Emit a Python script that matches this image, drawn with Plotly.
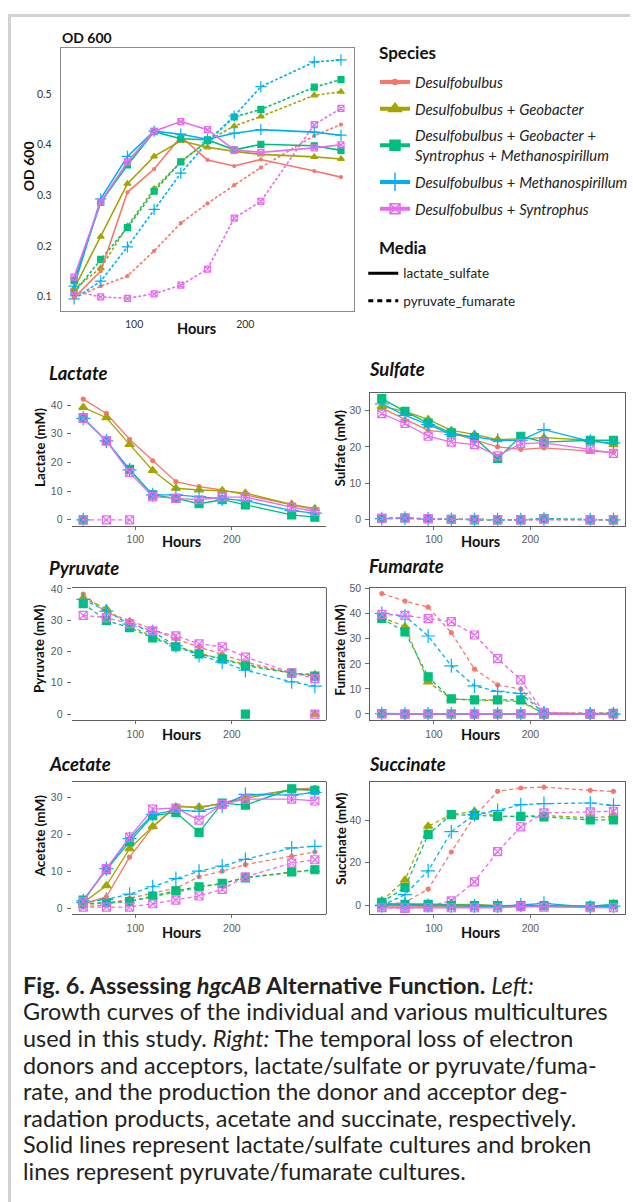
import plotly.graph_objects as go

W, H = 633, 1202

hours = [46, 70, 94, 118, 142, 166, 190, 214, 262, 286]

species = [
    "Desulfobulbus",
    "Desulfobulbus + Geobacter",
    "Desulfobulbus + Geobacter + Syntrophus + Methanospirillum",
    "Desulfobulbus + Methanospirillum",
    "Desulfobulbus + Syntrophus",
]
species_labels = [
    "<i>Desulfobulbus</i>",
    "<i>Desulfobulbus</i> + <i>Geobacter</i>",
    "<i>Desulfobulbus</i> + <i>Geobacter</i> +<br><i>Syntrophus</i> + <i>Methanospirillum</i>",
    "<i>Desulfobulbus</i> + <i>Methanospirillum</i>",
    "<i>Desulfobulbus</i> + <i>Syntrophus</i>",
]
media = ["lactate_sulfate", "pyruvate_fumarate"]

# ---- OD 600 ----
od_lactate_sulfate = [
    [0.097, 0.150, 0.306, 0.352, 0.416, 0.370, 0.358, 0.371, 0.348, 0.336],
    [0.115, 0.218, 0.323, 0.377, 0.408, 0.395, 0.387, 0.381, 0.376, 0.372],
    [0.131, 0.286, 0.360, 0.426, 0.412, 0.410, 0.390, 0.401, 0.398, 0.389],
    [0.120, 0.293, 0.377, 0.427, 0.421, 0.411, 0.423, 0.430, 0.425, 0.419],
    [0.138, 0.287, 0.366, 0.427, 0.446, 0.430, 0.390, 0.385, 0.394, 0.400],
]
od_pyruvate_fumarate = [
    [0.097, 0.120, 0.140, 0.190, 0.245, 0.284, 0.320, 0.355, 0.418, 0.440],
    [0.115, 0.156, 0.239, 0.313, 0.366, 0.408, 0.437, 0.456, 0.498, 0.505],
    [0.107, 0.173, 0.236, 0.308, 0.366, 0.408, 0.455, 0.470, 0.514, 0.529],
    [0.095, 0.130, 0.198, 0.272, 0.344, 0.405, 0.457, 0.515, 0.564, 0.568],
    [0.110, 0.099, 0.096, 0.105, 0.122, 0.154, 0.255, 0.288, 0.440, 0.472],
]

# ---- Lactate (mM) ----
lactate_lactate_sulfate = [
    [42.1, 37.1, 28.1, 20.6, 13.3, 11.6, 10.4, 8.7, 5.2, 3.5],
    [39.2, 35.6, 26.3, 17.2, 11.0, 10.4, 10.1, 9.3, 5.4, 3.9],
    [35.6, 27.5, 17.6, 8.7, 7.5, 5.6, 7.0, 5.2, 1.7, 0.9],
    [35.4, 27.5, 17.4, 8.7, 8.7, 8.1, 7.3, 6.7, 3.2, 2.3],
    [35.4, 27.5, 16.5, 8.1, 7.5, 7.0, 7.9, 7.9, 4.4, 2.9],
]
lactate_pyruvate_fumarate = [
    [0.0, None, None, None, None, None, None, None, None, None],
    [0.0, None, None, None, None, None, None, None, None, None],
    [0.0, None, None, None, None, None, None, None, None, None],
    [0.0, None, None, None, None, None, None, None, None, None],
    [0.0, 0.0, 0.0, None, None, None, None, None, None, None],
]

# ---- Sulfate (mM) ----
sulfate_lactate_sulfate = [
    [30.6, 27.5, 24.5, 23.8, 21.8, 20.0, 19.3, 19.7, 18.8, 18.5],
    [31.1, 29.7, 27.5, 24.5, 23.4, 22.0, 22.2, 22.5, 21.8, 20.6],
    [33.2, 29.7, 26.5, 23.8, 22.5, 16.8, 22.9, 21.3, 21.8, 21.8],
    [31.8, 28.6, 26.1, 23.4, 22.7, 21.8, 21.8, 24.7, 21.5, 21.1],
    [29.1, 26.4, 22.9, 21.3, 20.6, 17.5, 20.9, 21.1, 19.3, 18.2],
]
sulfate_pyruvate_fumarate = [
    [0.4, 0.5, 0.2, 0.1, 0.0, 0.0, 0.0, 0.2, 0.0, 0.0],
    [0.3, 0.4, 0.2, 0.1, 0.1, 0.0, 0.0, 0.1, 0.0, 0.0],
    [0.4, 0.5, 0.3, 0.1, 0.0, 0.0, 0.0, 0.3, 0.0, 0.0],
    [0.3, 0.4, 0.2, 0.1, 0.0, 0.0, 0.0, 0.2, 0.0, 0.0],
    [0.4, 0.5, 0.3, 0.1, 0.1, 0.0, 0.0, 0.2, 0.0, 0.0],
]

# ---- Pyruvate (mM) ----
pyruvate_lactate_sulfate = [
    [None, None, None, None, None, None, None, None, None, 0.0],
    [None, None, None, None, None, None, None, None, None, 0.0],
    [None, None, None, None, None, None, None, 0.0, None, None],
    [None, None, None, None, None, None, None, None, None, None],
    [None, None, None, None, None, None, None, None, None, 0.0],
]
pyruvate_pyruvate_fumarate = [
    [38.3, 32.4, 29.9, 27.1, 23.9, 21.5, 19.2, 16.6, 13.1, 12.4],
    [37.1, 33.6, 28.2, 24.7, 21.8, 19.4, 17.6, 15.9, 13.1, 12.6],
    [35.3, 29.9, 27.6, 24.3, 21.5, 19.2, 17.6, 15.5, 13.1, 12.1],
    [36.6, 32.9, 28.7, 26.3, 21.8, 18.7, 16.6, 14.0, 10.3, 8.9],
    [31.5, 30.8, 28.9, 26.6, 25.0, 22.4, 21.5, 18.2, 13.2, 11.3],
]

# ---- Fumarate (mM) ----
fumarate_lactate_sulfate = [
    [0.0, 0.0, 0.0, 0.0, 0.0, 0.0, 0.0, 0.0, 0.0, 0.0],
    [0.1, 0.0, 0.0, 0.0, 0.0, 0.0, 0.0, 0.0, 0.0, 0.1],
    [0.2, 0.0, 0.0, 0.0, 0.0, 0.0, 0.0, 0.0, 0.0, 0.2],
    [0.1, 0.0, 0.0, 0.0, 0.0, 0.0, 0.0, 0.0, 0.0, 0.0],
    [0.0, 0.0, 0.1, 0.1, 0.0, 0.0, 0.1, 0.0, 0.0, 0.0],
]
fumarate_pyruvate_fumarate = [
    [48.0, 45.0, 42.6, 32.4, 17.9, 11.6, 9.9, 0.4, 0.4, 0.4],
    [38.6, 34.8, 12.8, 6.0, 5.6, 5.3, 5.0, 0.0, 0.0, 0.0],
    [38.1, 32.7, 14.8, 6.0, 5.6, 5.6, 5.6, 0.0, 0.0, 0.3],
    [40.1, 39.0, 31.1, 19.2, 11.2, 9.0, 8.2, 0.4, 0.0, 0.0],
    [39.7, 39.3, 38.0, 36.8, 31.5, 22.1, 13.6, 0.7, 0.0, 0.0],
]

# ---- Acetate (mM) ----
acetate_lactate_sulfate = [
    [1.1, 3.1, 13.8, 21.9, 27.7, 27.1, 28.4, 30.2, 32.0, 32.6],
    [1.5, 6.1, 16.1, 22.1, 27.4, 27.4, 28.3, 29.7, 32.1, 32.0],
    [2.2, 10.4, 18.0, 25.0, 25.9, 20.5, 28.4, 27.9, 32.3, 31.9],
    [2.0, 10.7, 18.8, 25.4, 26.5, 26.2, 27.7, 30.8, 30.6, 31.3],
    [1.8, 10.7, 19.2, 26.8, 27.1, 23.8, 28.1, 29.5, 29.5, 29.0],
]
acetate_pyruvate_fumarate = [
    [0.4, 0.9, 2.7, 4.0, 5.4, 8.5, 10.0, 11.8, 14.0, 15.2],
    [0.9, 1.5, 1.8, 3.1, 4.5, 5.6, 6.7, 8.3, 9.8, 10.4],
    [1.2, 1.5, 1.8, 3.3, 4.7, 5.8, 6.7, 8.2, 9.8, 10.4],
    [1.5, 2.4, 3.8, 5.8, 8.0, 10.0, 11.4, 13.2, 16.3, 16.7],
    [0.3, 0.3, 0.3, 1.2, 2.2, 3.3, 5.1, 8.5, 12.2, 13.1],
]

# ---- Succinate (mM) ----
succinate_lactate_sulfate = [
    [-0.5, -0.5, -0.5, -0.8, -0.8, -0.8, -0.8, -0.8, -0.8, -0.8],
    [0.4, 0.5, 0.5, 0.2, 0.3, -0.3, -0.5, -0.3, -0.5, 0.0],
    [0.5, 0.3, 0.3, -0.2, -0.3, -0.3, -0.3, -0.3, -0.5, 0.3],
    [0.0, 0.0, -0.2, -0.3, -0.5, -0.5, 0.0, 0.8, -1.0, -0.5],
    [-1.3, -1.3, -1.3, -1.3, -1.3, -1.3, -0.8, -1.0, -1.3, -1.3],
]
succinate_pyruvate_fumarate = [
    [0.0, 1.3, 7.5, 25.1, 42.0, 53.8, 55.4, 55.8, 54.3, 53.8],
    [2.0, 11.8, 37.3, 42.8, 44.4, 42.0, 42.0, 42.4, 41.3, 42.0],
    [1.3, 8.3, 33.4, 42.8, 42.5, 42.0, 42.0, 41.7, 40.3, 40.3],
    [-0.3, 4.9, 16.2, 34.7, 42.8, 44.7, 47.5, 48.0, 48.3, 47.2],
    [-1.1, -1.6, -0.6, 2.0, 11.0, 25.3, 37.0, 43.6, 44.1, 44.4],
]

# ------------------------------------------------------------------
colors = ["#F8766D", "#A3A500", "#00BF7D", "#00B0F6", "#E76BF3"]
symbols = ["circle", "triangle-up", "square", "cross-thin-open", "square-x-open"]
msize_small = [4, 8, 8, 10, 8]
msize_od = [3, 6, 6, 8, 6]

FONT = "Lato, 'Open Sans', sans-serif"
TICKFONT = "'Liberation Sans', Arial, sans-serif"


def px_x(p0, p1):
    return [p0 / W, p1 / W]


def px_y(top, bottom):
    return [1 - bottom / H, 1 - top / H]


fig = go.Figure()

panels = [
    # name, axis suffix, data LS, data PF, x px, y px, y range, y ticks
    ("OD", "", od_lactate_sulfate, od_pyruvate_fumarate, (61, 356), (43, 307), [0.0715, 0.592], [0.1, 0.2, 0.3, 0.4, 0.5]),
    ("Lactate", "2", lactate_lactate_sulfate, lactate_pyruvate_fumarate, (72, 328), (390, 523), [-2.1, 44.1], [0, 10, 20, 30, 40]),
    ("Sulfate", "3", sulfate_lactate_sulfate, sulfate_pyruvate_fumarate, (372, 628), (390, 523), [-1.65, 34.65], [0, 10, 20, 30]),
    ("Pyruvate", "4", pyruvate_lactate_sulfate, pyruvate_pyruvate_fumarate, (72, 328), (585, 718), [-1.9, 40.4], [0, 10, 20, 30, 40]),
    ("Fumarate", "5", fumarate_lactate_sulfate, fumarate_pyruvate_fumarate, (372, 628), (585, 718), [-2.4, 50.4], [0, 10, 20, 30, 40, 50]),
    ("Acetate", "6", acetate_lactate_sulfate, acetate_pyruvate_fumarate, (72, 328), (780, 913), [-1.63, 34.2], [0, 10, 20, 30]),
    ("Succinate", "7", succinate_lactate_sulfate, succinate_pyruvate_fumarate, (372, 628), (780, 913), [-4.35, 58.35], [0, 20, 40]),
]

layout_axes = {}
for name, sfx, d_ls, d_pf, xp, yp, yr, yt in panels:
    is_od = name == "OD"
    xa = "x" + sfx
    ya = "y" + sfx
    lw = 1.6 if is_od else 1.3
    dash = "3px,2px" if is_od else "4px,3px"
    sizes = msize_od if is_od else msize_small
    for data, dsh in ((d_pf, dash), (d_ls, "solid")):
        for i in range(len(species)):
            fig.add_trace(go.Scatter(
                x=hours, y=data[i], xaxis=xa, yaxis=ya,
                mode="lines+markers", showlegend=False, hoverinfo="skip",
                line=dict(color=colors[i], width=lw, dash=dsh),
                marker=dict(symbol=symbols[i], size=sizes[i], color=colors[i],
                            line=dict(color=colors[i], width=1.2)),
                connectgaps=False,
            ))
    border = "#8a8a8a" if is_od else "#5e5e5e"
    full_box = name in ("OD", "Sulfate", "Fumarate", "Succinate")
    xkey = "xaxis" + sfx
    ykey = "yaxis" + sfx
    tf = dict(family=FONT if is_od else TICKFONT,
              size=10.5,
              color="#333333" if is_od else "#5a5a5a")
    layout_axes[xkey] = dict(
        domain=px_x(*xp), anchor=ya, range=[34, 298],
        tickvals=[100, 200], ticktext=["100", "200"],
        showgrid=False, zeroline=False,
        showline=True, linecolor=border, linewidth=1,
        mirror=full_box or name in ("Pyruvate", "Acetate"),
        ticks="" if is_od else "outside", ticklen=3, tickcolor="#6e6e6e",
        tickfont=tf, ticklabelstandoff=4 if is_od else 1,
    )
    layout_axes[ykey] = dict(
        domain=px_y(*yp), anchor=xa, range=yr,
        tickvals=yt, showgrid=False, zeroline=False,
        showline=full_box, linecolor=border, linewidth=1, mirror=full_box,
        ticks="" if is_od else "outside", ticklen=4, tickcolor="#6e6e6e",
        tickfont=tf, ticklabelstandoff=6 if is_od else 2,
    )
    if name in ("Pyruvate", "Acetate"):
        fig.add_shape(type="line", xref=xa + " domain", yref=ya + " domain",
                      x0=1, x1=1, y0=0, y1=1, line=dict(color=border, width=1))

# ---- legend traces ----
for i in range(len(species)):
    fig.add_trace(go.Scatter(
        x=[None], y=[None], name=species_labels[i], legend="legend",
        legendgroup="sp%d" % i, mode="lines+markers",
        line=dict(color=colors[i], width=4),
        marker=dict(symbol=symbols[i], size=[5, 11, 10, 13, 10][i], color=colors[i],
                    line=dict(color=colors[i], width=1.5)),
    ))
for j, m in enumerate(media):
    fig.add_trace(go.Scatter(
        x=[None], y=[None], name=m, legend="legend2",
        legendgroup="md%d" % j, mode="lines",
        line=dict(color="black", width=3, dash="solid" if j == 0 else "5px,4px"),
    ))

ann = []


def text(x, y, s, size, bold=False, italic=False, family=FONT, color="#111111",
         xanchor="left", angle=0):
    if italic:
        s = "<i>" + s + "</i>"
    if bold:
        s = "<b>" + s + "</b>"
    ann.append(dict(x=x / W, y=1 - y / H, xref="paper", yref="paper", text=s,
                    showarrow=False, xanchor=xanchor, yanchor="middle",
                    textangle=angle, font=dict(size=size, family=family, color=color)))


# panel titles
text(60, 33, "OD 600", 14, bold=True)
for t, x, y in [("Lactate", 47, 370), ("Sulfate", 369, 366), ("Pyruvate", 47, 565),
                ("Fumarate", 369, 563), ("Acetate", 47, 762), ("Succinate", 369, 762)]:
    text(x, y, t, 18.5, bold=True, italic=True)

# axis titles
text(28, 162, "OD 600", 14, bold=True, xanchor="center", angle=-90)
for t, x, y in [("Lactate (mM)", 40, 444), ("Sulfate (mM)", 342, 445),
                ("Pyruvate (mM)", 40, 646), ("Fumarate (mM)", 342, 647),
                ("Acetate (mM)", 40, 834), ("Succinate (mM)", 342, 837)]:
    text(x, y, t, 13.5, bold=True, xanchor="center", angle=-90)
text(197, 325, "Hours", 14.5, bold=True, xanchor="center")
for x, y in [(182, 539), (483, 539), (182, 733), (483, 733), (182, 931), (483, 931)]:
    text(x, y, "Hours", 14.5, bold=True, xanchor="center")

# legend headings
text(379, 48, "Species", 17, bold=True)
text(379, 244, "Media", 17, bold=True)

# caption
caption = [
    "<b>Fig. 6. Assessing <i>hgcAB</i> Alternative Function.</b> <i>Left:</i>",
    "Growth curves of the individual and various multicultures",
    "used in this study. <i>Right:</i> The temporal loss of electron",
    "donors and acceptors, lactate/sulfate or pyruvate/fuma-",
    "rate, and the production the donor and acceptor deg-",
    "radation products, acetate and succinate, respectively.",
    "Solid lines represent lactate/sulfate cultures and broken",
    "lines represent pyruvate/fumarate cultures.",
]
for k, line in enumerate(caption):
    text(21, 984 + k * 26.7, line, 23.4, color="#231f20")

fig.update_layout(
    width=W, height=H, margin=dict(l=0, r=0, t=0, b=0),
    paper_bgcolor="white", plot_bgcolor="white",
    annotations=ann,
    legend=dict(x=377 / W, y=1 - 61 / H, xanchor="left", yanchor="top",
                bgcolor="rgba(0,0,0,0)", tracegroupgap=4.5,
                font=dict(family=FONT, size=14.9, color="#222222")),
    legend2=dict(x=365 / W, y=1 - 254 / H, xanchor="left", yanchor="top",
                 bgcolor="rgba(0,0,0,0)", tracegroupgap=7,
                 font=dict(family=FONT, size=13.5, color="#222222")),
    **layout_axes,
)

# page frame
fig.add_shape(type="line", xref="paper", yref="paper", x0=8 / W, x1=1, y0=1 - 10.5 / H, y1=1 - 10.5 / H,
              line=dict(color="#d2d2d2", width=3))
fig.add_shape(type="line", xref="paper", yref="paper", x0=9.5 / W, x1=9.5 / W, y0=0, y1=1 - 9 / H,
              line=dict(color="#d2d2d2", width=3))

fig.write_html("out.html", config={"displayModeBar": False},
               post_script="document.body.style.margin='0px';")
